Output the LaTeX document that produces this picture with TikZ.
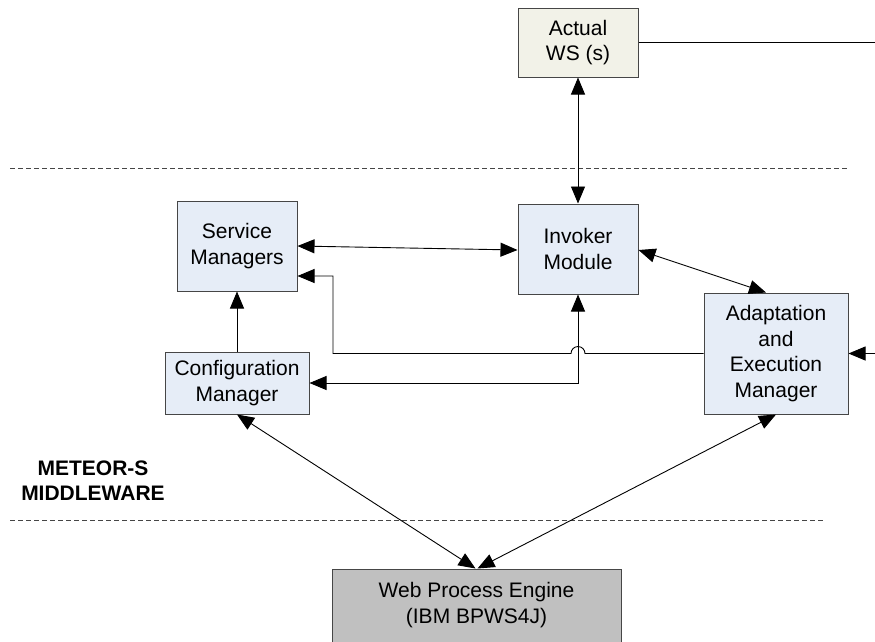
\documentclass[tikz,border=0pt]{standalone}
\usepackage{fontspec}
\setmainfont{Liberation Sans}
\usetikzlibrary{arrows.meta,calc}
\definecolor{boxblue}{RGB}{230,237,247}
\definecolor{wsfill}{RGB}{242,242,232}
\definecolor{engfill}{RGB}{192,192,192}
\definecolor{bordergray}{RGB}{70,70,70}
\tikzset{
  box/.style={draw=bordergray, line width=1pt, fill=boxblue, align=center, inner sep=0pt,
    font=\fontsize{21}{25.5}\selectfont},
  conn/.style={line width=0.9pt, draw=black},
  biarrow/.style={conn, {Triangle[length=17pt,width=14pt]}-{Triangle[length=17pt,width=14pt]}},
  onearrow/.style={conn, -{Triangle[length=17pt,width=14pt]}},
  sep/.style={draw=bordergray, line width=0.9pt, dash pattern=on 5pt off 3pt},
}
\begin{document}
\begin{tikzpicture}[x=1pt,y=-1pt]
\useasboundingbox (0,0) rectangle (875,641);
\fill[white] (0,0) rectangle (875,641);

% separators
\draw[sep] (10,168) -- (848,168);
\draw[sep] (10,520) -- (825,520);

% nodes
\node[box, fill=wsfill, minimum width=120pt, minimum height=69pt] (ws) at (578,42.5) {Actual\\WS (s)};
\node[box, minimum width=120pt, minimum height=90pt] (sm) at (237,246) {Service\\Managers};
\node[box, minimum width=120pt, minimum height=90pt] (inv) at (578,249) {Invoker\\Module};
\node[box, minimum width=144pt, minimum height=62pt] (cm) at (237,383) {Configuration\\Manager};
\node[box, minimum width=144pt, minimum height=121pt] (aem) at (776,353.5) {Adaptation\\and\\Execution\\Manager};
\node[box, fill=engfill, minimum width=289pt, minimum height=78pt] (wpe) at (476.5,608) {};
\node[font=\fontsize{21}{25.5}\selectfont, align=center] (wpetxt) at (476.5,605) {Web Process Engine\\(IBM BPWS4J)};
\node[font=\fontsize{21}{25}\selectfont\bfseries, align=center] (mw) at (93,480.5) {METEOR-S\\MIDDLEWARE};

\coordinate (wsout) at (875,42.5);
\coordinate (aemin) at (875,353.5);

% connectors
\draw[conn] (ws.east) -- (wsout);
\draw[biarrow] (ws.south) -- (inv.north);
\draw[biarrow] (sm.east) -- ([yshift=-1pt]inv.west);
\draw[biarrow] ([yshift=-1pt]inv.east) -- ([xshift=-10pt]aem.north);
\draw[onearrow] (cm.north) -- (sm.south);
\draw[onearrow] (aem.west) -- ([xshift=7pt]inv.south |- aem.west)
  arc[start angle=0, end angle=-180, radius=7]
  -- (333,353.5) |- ([yshift=-30pt]sm.east);
\draw[biarrow] (inv.south) |- (cm.east);
\draw[onearrow] (aemin) -- (aem.east);
\draw[biarrow] (cm.south) -- ([xshift=-1pt]wpe.north);
\draw[biarrow] (aem.south) -- ([xshift=1pt]wpe.north);
\end{tikzpicture}
\end{document}
